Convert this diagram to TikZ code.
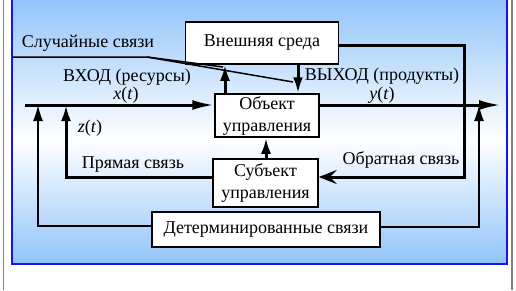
\documentclass[tikz,border=0pt]{standalone}
\usepackage{fontspec}
\setmainfont{Liberation Serif}
\usetikzlibrary{arrows.meta}
\definecolor{skyb}{RGB}{145,196,250}
\definecolor{frameblue}{RGB}{20,20,240}
\begin{document}
\begin{tikzpicture}[x=1pt,y=-1pt,
  every node/.style={font=\rmfamily\fontsize{18}{21}\selectfont, inner sep=0pt},
  box/.style={draw=black, line width=1.5pt, fill=white, align=center},
  thickline/.style={line width=3pt},
  thinline/.style={line width=1.5pt},
  bigarrow/.style={-{Latex[length=22pt,width=10pt]}},
  uparrow/.style={-{Latex[length=16pt,width=10pt]}},
  fbarrow/.style={-{Stealth[length=18pt,width=14pt,inset=7pt]}},
  lbl/.style={align=center}]
\useasboundingbox (0,0) rectangle (516,290);
% background frame
\shade[top color=skyb, bottom color=white] (12,-2) rectangle (507,140);
\shade[top color=white, bottom color=skyb] (12,140) rectangle (507,264);
\draw[frameblue, line width=1.5pt] (12,-2) -- (12,264) -- (507,264) -- (507,-2);
\draw[gray, line width=1.5pt] (3.5,0) -- (3.5,290);
\draw[gray, line width=1.5pt] (512,0) -- (512,290);
% boxes
\node[box, minimum width=153pt, minimum height=42pt] (env) at (262,43) {Внешняя среда};
\node[box, minimum width=104pt, minimum height=43pt, font=\rmfamily\fontsize{18}{22}\selectfont] (obj) at (267,115.5) {Объект\\управления};
\node[box, minimum width=105pt, minimum height=48pt, font=\rmfamily\fontsize{18}{22}\selectfont] (subj) at (265.5,183) {Субъект\\управления};
\node[box, minimum width=228pt, minimum height=35pt] (det) at (266,229.5) {Детерминированные связи};
% labels
\node[lbl] (rand) at (88,43) {Случайные связи};
\node[lbl] (inlbl) at (127,77) {ВХОД (ресурсы)};
\node[lbl] (xt) at (126,95) {\textit{x}(\textit{t})};
\node[lbl] (outlbl) at (382,76) {ВЫХОД (продукты)};
\node[lbl] (yt) at (382,95) {\textit{y}(\textit{t})};
\node[lbl] (zt) at (90,128) {\textit{z}(\textit{t})};
\node[lbl] (direct) at (133,165) {Прямая связь};
\node[lbl] (feedback) at (401,160) {Обратная связь};
% coordinates
\coordinate (inS) at (25,105);
\coordinate (outE) at (501,105);
\coordinate (zc) at (66,177);
\coordinate (fbc) at (464,45);
\coordinate (dl) at (38,226);
\coordinate (dr) at (479,227);
\coordinate (r0) at (12,57);
\coordinate (r1) at (147,57);
\coordinate (r2) at (223,67);
\coordinate (r3) at (293,82);
% main line
\draw[thickline, bigarrow] (inS) -- (obj.west |- inS);
\draw[thickline, bigarrow] (obj.east |- inS) -- (outE);
% direct link
\draw[thickline, uparrow] (subj.west |- zc) -- (zc) -- (zc |- inS);
% feedback
\draw[thickline, fbarrow] (env.east |- fbc) -- (fbc) -- (fbc |- zc) -- (subj.east |- zc);
% determined links
\draw[thinline, uparrow] (det.west |- dl) -- (dl) -- (dl |- inS);
\draw[thinline, uparrow] (det.east |- dr) -- (dr) -- (dr |- inS);
% env <-> obj
\draw[thickline, uparrow] (env.south -| 298,0) -- (obj.north -| 298,0);
\draw[thickline, uparrow] (obj.north -| 225,0) -- (env.south -| 225,0);
\draw[thickline, uparrow] (subj.north -| 266,0) -- (obj.south -| 266,0);
% random links
\draw[thinline] (r0) -- (r1) -- (r2);
\draw[thinline] (r1) -- (r3);
\end{tikzpicture}
\end{document}
